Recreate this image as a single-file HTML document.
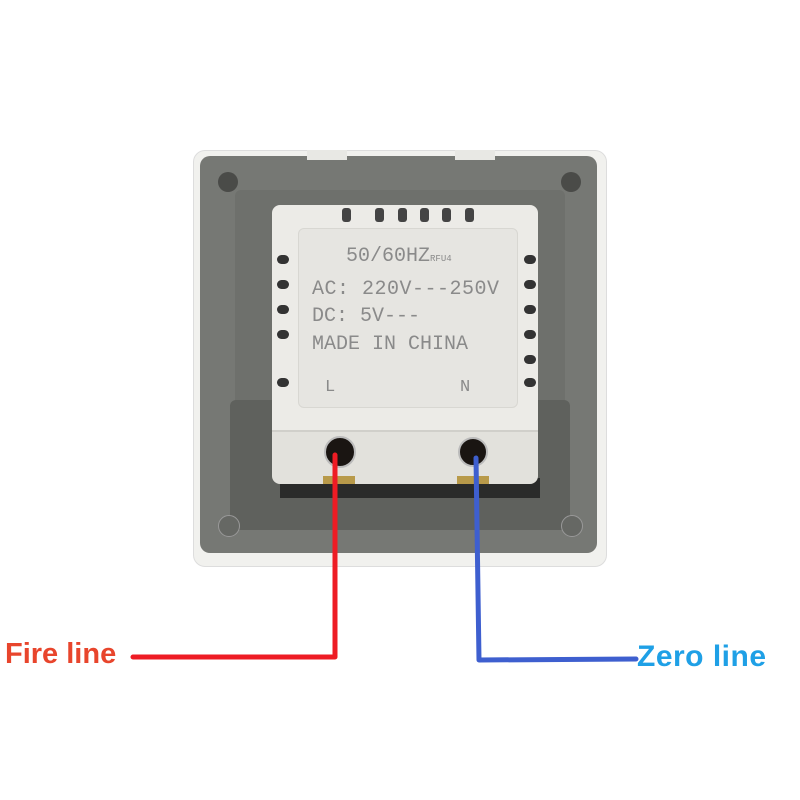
<!DOCTYPE html>
<html><head><meta charset="utf-8"><style>
body{margin:0;width:800px;height:800px;background:#fff;position:relative;overflow:hidden;font-family:"Liberation Sans",sans-serif}
.a{position:absolute}
.slot{position:absolute;width:12px;height:9px;background:#333;border-radius:5px}
.vt{position:absolute;width:9px;height:14px;background:#444;border-radius:3px}
.mono{font-family:"Liberation Mono",monospace;color:#8a8a8a;position:absolute;white-space:nowrap}
</style></head><body>
<div class="a" style="left:193px;top:150px;width:412px;height:415px;background:#f1f1ee;border-radius:12px;border:1px solid #ddd"></div>
<div class="a" style="left:200px;top:156px;width:397px;height:397px;background:#767874;border-radius:10px"></div>
<div class="a" style="left:235px;top:190px;width:330px;height:340px;background:#6e706c;border-radius:6px"></div>
<div class="a" style="left:230px;top:400px;width:340px;height:130px;background:#5f615d;border-radius:6px"></div>
<div class="a" style="left:280px;top:478px;width:260px;height:20px;background:#2a2b2a"></div>
<div class="a" style="left:218px;top:172px;width:20px;height:20px;border-radius:50%;background:#4a4b48"></div>
<div class="a" style="left:561px;top:172px;width:20px;height:20px;border-radius:50%;background:#4a4b48"></div>
<div class="a" style="left:218px;top:515px;width:20px;height:20px;border-radius:50%;background:#666864;border:1px solid #999"></div>
<div class="a" style="left:561px;top:515px;width:20px;height:20px;border-radius:50%;background:#666864;border:1px solid #999"></div>
<div class="a" style="left:307px;top:150px;width:40px;height:10px;background:#e8e8e4"></div>
<div class="a" style="left:455px;top:150px;width:40px;height:10px;background:#e8e8e4"></div>
<div class="a" style="left:272px;top:205px;width:266px;height:277px;background:#ecebe7;border-radius:8px"></div>
<div class="a" style="left:272px;top:430px;width:266px;height:52px;background:#e2e1dc;border-radius:0 0 8px 8px;border-top:2px solid #d0cfca"></div>
<div class="a" style="left:298px;top:228px;width:218px;height:178px;background:#e6e5e1;border:1px solid #d8d7d2;border-radius:6px"></div>
<div class="vt" style="left:342px;top:208px"></div><div class="vt" style="left:375px;top:208px"></div>
<div class="vt" style="left:398px;top:208px"></div><div class="vt" style="left:420px;top:208px"></div>
<div class="vt" style="left:442px;top:208px"></div><div class="vt" style="left:465px;top:208px"></div>
<div class="slot" style="left:277px;top:255px"></div><div class="slot" style="left:277px;top:280px"></div>
<div class="slot" style="left:277px;top:305px"></div><div class="slot" style="left:277px;top:330px"></div>
<div class="slot" style="left:277px;top:378px"></div>
<div class="slot" style="left:524px;top:255px"></div><div class="slot" style="left:524px;top:280px"></div>
<div class="slot" style="left:524px;top:305px"></div><div class="slot" style="left:524px;top:330px"></div>
<div class="slot" style="left:524px;top:355px"></div><div class="slot" style="left:524px;top:378px"></div>
<div class="mono" style="left:346px;top:245px;font-size:20px">50/60HZ<span style="font-size:9px">RFU4</span></div>
<div class="mono" style="left:312px;top:278px;font-size:20px;letter-spacing:0.5px">AC: 220V---250V</div>
<div class="mono" style="left:312px;top:305px;font-size:20px">DC: 5V---</div>
<div class="mono" style="left:312px;top:333px;font-size:20px;letter-spacing:0px">MADE  IN  CHINA</div>
<div class="mono" style="left:325px;top:378px;font-size:17px">L</div>
<div class="mono" style="left:460px;top:378px;font-size:17px">N</div>
<div class="a" style="left:324px;top:436px;width:28px;height:28px;border-radius:50%;background:#1a1512;border:2px solid #bbb"></div>
<div class="a" style="left:458px;top:437px;width:26px;height:26px;border-radius:50%;background:#1a1512;border:2px solid #bbb"></div>
<div class="a" style="left:323px;top:476px;width:32px;height:8px;background:#b89a4a"></div>
<div class="a" style="left:457px;top:476px;width:32px;height:8px;background:#b89a4a"></div>
<svg class="a" style="left:0;top:0" width="800" height="800">
<polyline points="335,455 335,657 133,657" fill="none" stroke="#ee1c24" stroke-width="5" stroke-linecap="round" stroke-linejoin="round"/>
<polyline points="476,458 479,660 636,659" fill="none" stroke="#3e5fcf" stroke-width="5" stroke-linecap="round" stroke-linejoin="round"/>
</svg>
<div class="a" style="left:5px;top:638px;font-size:29px;font-weight:bold;color:#e8452c;white-space:nowrap">Fire line</div>
<div class="a" style="left:637px;top:640px;font-size:30px;font-weight:bold;color:#1fa0e6;white-space:nowrap;letter-spacing:0.5px">Zero line</div>
</body></html>
